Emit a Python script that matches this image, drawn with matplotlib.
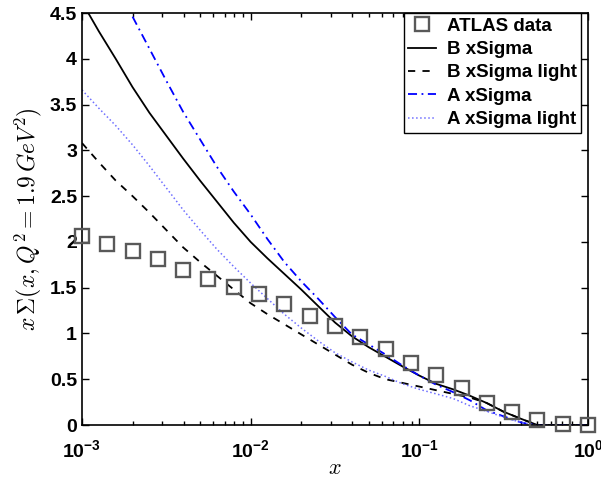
import math
import matplotlib
matplotlib.use("Agg")
import matplotlib.pyplot as plt
from matplotlib.ticker import FuncFormatter, FixedLocator

plt.rcParams['font.family'] = ['Liberation Sans', 'DejaVu Sans']
plt.rcParams['font.weight'] = 'bold'
plt.rcParams['mathtext.fontset'] = 'custom'
plt.rcParams['mathtext.rm'] = 'Liberation Sans:bold'

# ATLAS data points
x_atlas = [0.001, 0.00141, 0.002, 0.00282, 0.00398, 0.00562, 0.00794,
           0.0112, 0.0158, 0.0224, 0.0316, 0.0447, 0.0631, 0.0891,
           0.126, 0.178, 0.251, 0.355, 0.501, 0.708, 1.0]
y_atlas = [2.07, 1.98, 1.90, 1.81, 1.69, 1.60, 1.51,
           1.43, 1.32, 1.19, 1.08, 0.96, 0.83, 0.68,
           0.55, 0.40, 0.24, 0.14, 0.055, 0.01, 0.005]

# model curves, read on a log-spaced grid of x
x_curve = [0.001, 0.001259, 0.001585, 0.001995, 0.002512, 0.003162,
           0.003981, 0.005012, 0.00631, 0.007943, 0.01, 0.01259, 0.01585,
           0.01995, 0.02512, 0.03162, 0.03981, 0.05012, 0.0631, 0.07943,
           0.1, 0.1259, 0.1585, 0.1995, 0.2512, 0.3162, 0.3981, 0.4467,
           0.5012, 0.631, 1.0]
b_xsigma = [4.62, 4.30, 4.00, 3.69, 3.41, 3.16, 2.91, 2.67, 2.44, 2.21,
            2.00, 1.82, 1.65, 1.48, 1.30, 1.12, 0.97, 0.85, 0.745, 0.64,
            0.54, 0.45, 0.39, 0.32, 0.24, 0.145, 0.07, 0.035, 0.0, 0.0, 0.0]
b_xsigma_light = [3.08, 2.87, 2.67, 2.50, 2.32, 2.13, 1.94, 1.78, 1.63, 1.48,
                  1.33, 1.21, 1.10, 0.99, 0.88, 0.77, 0.66, 0.57, 0.50, 0.46,
                  0.42, 0.38, 0.34, 0.30, 0.24, 0.145, 0.07, 0.035, 0.0, 0.0, 0.0]
a_xsigma = [5.50, 5.15, 4.82, 4.46, 4.11, 3.76, 3.42, 3.12, 2.82, 2.55,
            2.30, 2.03, 1.78, 1.57, 1.38, 1.18, 0.99, 0.88, 0.77, 0.65,
            0.54, 0.44, 0.36, 0.27, 0.16, 0.095, 0.03, 0.01, 0.0, 0.0, 0.0]
a_xsigma_light = [3.66, 3.46, 3.27, 3.06, 2.83, 2.59, 2.35, 2.13, 1.92, 1.73,
                  1.55, 1.38, 1.21, 1.06, 0.92, 0.79, 0.69, 0.60, 0.53, 0.45,
                  0.39, 0.34, 0.29, 0.21, 0.15, 0.085, 0.03, 0.01, 0.0, 0.0, 0.0]

fig = plt.figure(figsize=(6.01, 4.79), dpi=100)
ax = fig.add_axes([0.1364, 0.1127, 0.8419, 0.8601])

ax.plot(x_atlas, y_atlas, 's', mfc='none', mec='#595959', mew=1.7, ms=10,
        clip_on=False, zorder=5, label='ATLAS data')
ax.plot(x_curve, b_xsigma, '-', color='k', lw=1.3, label='B xSigma')
ax.plot(x_curve, b_xsigma_light, '--', color='k', lw=1.3, dashes=(4, 4),
        label='B xSigma light')
ax.plot(x_curve, a_xsigma, '-.', color='b', lw=1.3, dashes=(5, 2.5, 1, 2.5),
        label='A xSigma')
ax.plot(x_curve, a_xsigma_light, ':', color='#6f6fff', lw=1.1,
        label='A xSigma light')

ax.set_xscale('log')
ax.set_xlim(1e-3, 1)
ax.set_ylim(0, 4.5)
ax.yaxis.set_major_locator(FixedLocator([0, 0.5, 1, 1.5, 2, 2.5, 3, 3.5, 4, 4.5]))
ax.yaxis.set_major_formatter(FuncFormatter(lambda v, p: '%g' % v))
ax.xaxis.set_major_formatter(FuncFormatter(
    lambda v, p: r'$\mathrm{10^{%d}}$' % round(math.log10(v))))

ax.tick_params(which='both', direction='in', top=True, right=True,
               labelsize=14, width=1)
ax.tick_params(which='major', length=5)
ax.tick_params(which='minor', length=3)
ax.tick_params(axis='x', which='major', pad=10)
for s in ax.spines.values():
    s.set_linewidth(1.2)

ax.set_xlabel(r'$x$', fontsize=16, math_fontfamily='cm', labelpad=-2)
ax.set_ylabel(r'$x\,\Sigma(x,Q^2=1.9\,GeV^2)$', fontsize=17,
              math_fontfamily='cm', labelpad=4)

leg = ax.legend(loc='upper right', bbox_to_anchor=(0.987, 1.0),
                fontsize=13.5, frameon=True, fancybox=False,
                edgecolor='k', handlelength=1.5, borderpad=0.25,
                labelspacing=0.33, handletextpad=0.55, borderaxespad=0,
                framealpha=1)
leg.get_frame().set_linewidth(1.0)

fig.savefig('out.png', dpi=100)
